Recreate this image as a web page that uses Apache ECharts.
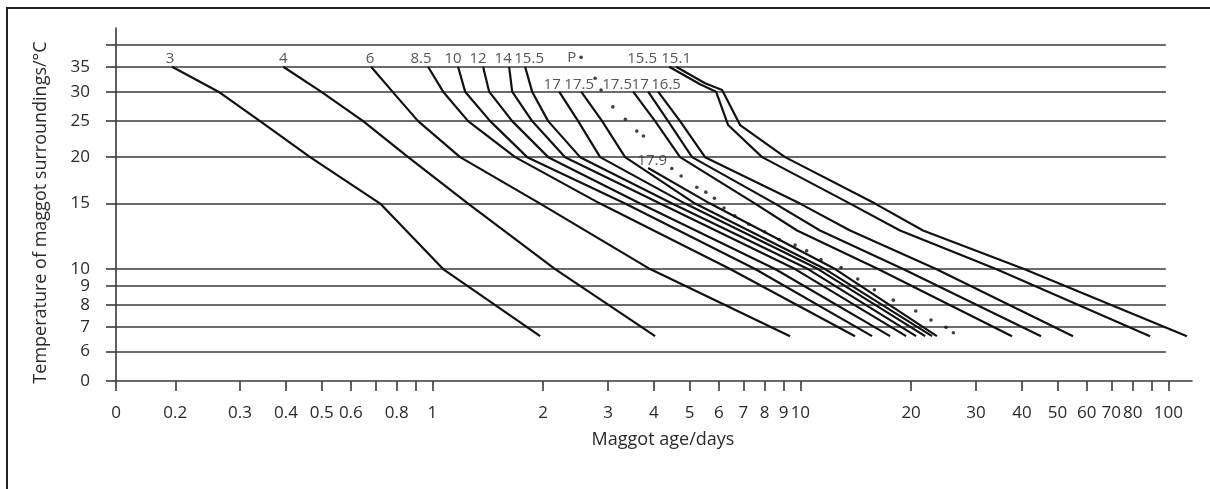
<!DOCTYPE html>
<html><head><meta charset="utf-8">
<script src="https://cdn.jsdelivr.net/npm/echarts@6/dist/echarts.min.js"></script>
<style>html,body{margin:0;padding:0;background:#fff}#c{width:1210px;height:489px}</style>
</head><body><div id="c"></div>
<script>
// ---- data (days, °C) ----
const xTicks = [0.138,0.2,0.3,0.4,0.5,0.6,0.7,0.8,0.9,1,2,3,4,5,6,7,8,9,10,20,30,40,50,60,70,80,90,100];
const xTickLabels = ['0','0.2','0.3','0.4','0.5','0.6','','0.8','','1','2','3','4','5','6','7','8','9','10','20','30','40','50','60','70','80','','100'];
const yTicks = [5,6,7,8,9,10,15,20,25,30,35,40];
const yTickLabels = ['0','6','7','8','9','10','15','20','25','30','35',''];
const gridTemps = [6,7,8,9,10,15,20,25,30,35,40];
const curveLabels = ['3','4','6','8.5','10','12','14','15.5','17','17.5','17.9','17.5','17','16.5','15.5','15.1'];

const c3 = [[0.196,35],[0.262,30],[0.340,25],[0.465,20],[0.721,15],[1.069,10],[1.962,6.6]];
const c4 = [[0.393,35],[0.498,30],[0.648,25],[0.859,20],[1.250,15],[2.155,10],[4.029,6.6]];
const c6 = [[0.681,35],[0.802,29],[0.914,25],[1.189,20],[1.962,15],[3.905,10],[9.376,6.6]];
const c8_5 = [[0.973,35],[1.069,30],[1.250,25],[1.678,20],[2.856,15],[6.442,10],[14.08,6.6]];
const c10 = [[1.174,35],[1.227,30],[1.435,25],[1.809,20],[3.339,15],[7.532,10],[15.66,6.6]];
const c12 = [[1.373,35],[1.426,30],[1.647,25],[2.063,20],[3.668,15],[8.535,10],[17.53,6.6]];
const c14 = [[1.616,35],[1.647,30],[1.866,25],[2.294,20],[4.157,15],[9.674,10],[19.38,6.6]];
const c15_5 = [[1.786,35],[1.866,30],[2.063,25],[2.520,20],[4.481,15],[10.49,10],[20.63,6.6]];
const c17 = [[2.210,30],[2.489,25],[2.856,20],[4.861,15],[11.17,10],[21.83,6.6]];
const c17_5 = [[2.536,30],[2.892,25],[3.339,20],[5.174,15],[11.67,10],[22.8,6.6]];
const c17_9 = [[3.857,18.7],[5.684,15],[12.43,10],[23.5,6.6]];
const c17_5b = [[3.511,30],[4.029,25],[4.710,20],[7.532,15],[9.795,12.7],[16.26,10],[37.6,6.6]];
const c17b = [[3.857,30],[4.370,25],[5.078,20],[8.535,15],[11.31,12.7],[19.02,10],[45.1,6.6]];
const c16_5 = [[4.105,30],[4.710,25],[5.508,20],[9.98,15],[13.65,12.7],[23.38,10],[55.1,6.6]];
const c15_5b = [[4.398,35],[5.339,31.4],[5.901,30],[6.362,24.4],[7.871,20],[13.65,15],[18.66,12.7],[34.02,10],[89.2,6.6]];
const c15_1 = [[4.595,35],[5.508,31.6],[6.127,30.3],[6.858,24.4],[9.087,20],[15.96,15],[21.55,12.7],[40.54,10],[112.4,6.6]];
const pupa = [[2.536,37.1],[2.768,32.6],[2.873,30.3],[3.092,27.3],[3.345,25.3],[3.593,23.5],[3.745,22.8],[4.472,18.65],[4.741,17.8],[5.23,16.6],[5.534,16.1],[5.84,15.5],[6.2,14.6],[6.635,13.9],[7.24,13.2],[7.995,12.6],[8.765,12.0],[9.675,11.6],[10.4,11.2],[11.38,10.6],[12.9,10.1],[14.32,9.4],[15.89,8.8],[17.89,8.25],[20.59,7.71],[22.65,7.29],[24.88,6.97],[26.05,6.74]];
const pupaLabel = 'P';

// ---- layout / style ----
const curves = [c3,c4,c6,c8_5,c10,c12,c14,c15_5,c17,c17_5,c17_9,c17_5b,c17b,c16_5,c15_5b,c15_1];
const labelOffsets = [[-2,0],[0,0],[-1,0],[-7,0],[-5,0],[-5,0],[-6,0],[4,0],[-7,1],[-2,1],[4,1],[-16,1],[-8,1],[8,1],[-27,0],[0,0]];
const X_MIN = 0.138, X_MAX = 116, Y_MIN = 5, Y_MAX = 44.5, GRID_END = 98.5;
const L = Math.log10;
const FONT = 'Open Sans';
const TXT = '#2a2a2a';
const LINE = '#3a3a3a';

function lab(ticks, labels) {
  return v => { const i = ticks.findIndex(t => Math.abs(L(t) - v) < 1e-6); return i >= 0 ? labels[i] : ''; };
}

const series = curves.map((c, i) => ({
  type: 'line', data: c.map(p => [L(p[0]), L(p[1])]),
  showSymbol: false, symbol: 'none', silent: true,
  lineStyle: { color: '#111', width: 2.2 }, z: 3
}));
series[0].markLine = {
  silent: true, symbol: ['none','none'], label: { show: false },
  lineStyle: { color: LINE, width: 1.6, type: 'solid' },
  data: gridTemps.map(t => [{ coord: [L(X_MIN), L(t)] }, { coord: [L(GRID_END), L(t)] }]),
  z: 1
};
series.push({
  type: 'scatter', silent: true, symbolSize: 1, itemStyle: { color: 'rgba(0,0,0,0)' },
  data: curves.map((c, i) => ({
    value: [L(c[0][0]), L(c[0][1])],
    label: { show: true, formatter: curveLabels[i], position: 'top', distance: 0, offset: labelOffsets[i],
      fontFamily: FONT, fontSize: 15, color: TXT }
  })), z: 4
});
series.push({
  type: 'scatter', silent: true, symbolSize: 3.6, itemStyle: { color: '#111' },
  data: pupa.map((p, i) => i === 0 ? {
    value: [L(p[0]), L(p[1])],
    label: { show: true, formatter: pupaLabel, position: 'left', distance: 3, fontFamily: FONT, fontSize: 15, color: TXT }
  } : [L(p[0]), L(p[1])]), z: 4
});

const axisLineStyle = { color: LINE, width: 1.6 };
const option = {
  animation: false,
  backgroundColor: '#fff',
  graphic: [{ type: 'rect', shape: { x: 7, y: 8, width: 1400, height: 700 }, style: { fill: 'none', stroke: '#222', lineWidth: 2 }, silent: true }],
  grid: { left: 116, right: 18, top: 28, bottom: 108 },
  xAxis: {
    type: 'value', min: L(X_MIN), max: L(X_MAX),
    name: 'Maggot age/days', nameLocation: 'middle', nameGap: 50,
    nameTextStyle: { fontFamily: FONT, fontSize: 18, color: TXT, padding: [0, 0, 0, 18] },
    axisLine: { show: true, onZero: false, lineStyle: axisLineStyle },
    axisTick: { show: true, inside: false, length: 10, customValues: xTicks.map(L), lineStyle: axisLineStyle },
    axisLabel: { customValues: xTicks.map(L), formatter: lab(xTicks, xTickLabels), margin: 24,
      fontFamily: FONT, fontSize: 17, color: TXT, showMinLabel: true, showMaxLabel: true, hideOverlap: false },
    splitLine: { show: false }
  },
  yAxis: {
    type: 'value', min: L(Y_MIN), max: L(Y_MAX),
    name: 'Temperature of maggot surroundings/°C', nameLocation: 'middle', nameGap: 66,
    nameTextStyle: { fontFamily: FONT, fontSize: 18, color: TXT, padding: [0, 16, 0, 0] },
    axisLine: { show: true, onZero: false, lineStyle: axisLineStyle },
    axisTick: { show: true, inside: false, length: 10, customValues: yTicks.map(L), lineStyle: axisLineStyle },
    axisLabel: { customValues: yTicks.map(L), formatter: lab(yTicks, yTickLabels), margin: 26,
      fontFamily: FONT, fontSize: 17, color: TXT, showMinLabel: true, showMaxLabel: true, hideOverlap: false },
    splitLine: { show: false }
  },
  series: series
};
const chart = echarts.init(document.getElementById('c'), null, { renderer: 'canvas' });
chart.setOption(option);
</script></body></html>
